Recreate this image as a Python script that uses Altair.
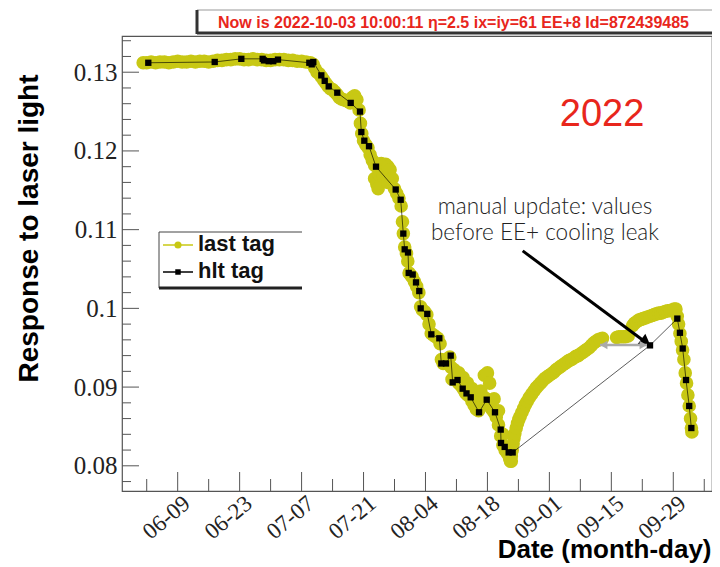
import altair as alt
import pandas as pd

# ---------------- data (day of year 2022, Jan 1 = 0) ----------------
hlt_day = [152.36, 167.37, 173.38, 178.2, 178.5, 179.57, 180.6, 181.67, 188.75, 189.29, 189.65,
           191.46, 192.23, 193.13, 195.07, 198.1, 200.2, 200.5, 201.18, 202.24, 203.82, 208.27,
           209.4, 209.99, 210.3, 211.05, 211.21, 212.11, 212.86, 213.6, 213.92, 215.41, 216.32,
           218.13, 218.58, 219.64, 220.7, 221.15, 222.24, 223.41, 224.27, 225.22, 227.1, 228.84,
           230.71, 232.0, 232.07, 232.9, 233.8, 234.7, 265.74, 271.91, 272.5, 273.13, 273.88,
           274.6, 275.08]
hlt_val = [0.1312, 0.1313, 0.1317, 0.1317, 0.1315, 0.1314, 0.1314, 0.1316, 0.1312, 0.1310, 0.1313,
           0.1296, 0.1289, 0.1282, 0.1274, 0.1261, 0.1250, 0.1224, 0.1213, 0.1206, 0.1180, 0.1151,
           0.1138, 0.1095, 0.1075, 0.1071, 0.1045, 0.1043, 0.1033, 0.1022, 0.1000, 0.0993, 0.0967,
           0.0962, 0.0930, 0.0930, 0.0940, 0.0906, 0.0909, 0.0898, 0.0892, 0.0887, 0.0868, 0.0884,
           0.0868, 0.0846, 0.0829, 0.0824, 0.0817, 0.0817, 0.0953, 0.0987, 0.0969, 0.0949, 0.0909,
           0.0876, 0.0848]

flat_day = [151.2, 152, 153, 154, 155, 156, 157, 158, 159, 160, 161, 162, 163, 164, 165, 166,
            167, 168, 169, 170, 171, 172, 173, 174, 175, 176, 177, 178, 179, 180, 181, 182, 183,
            184, 185, 186, 187, 188, 189, 189.6]
flat_val = [0.1312, 0.1312, 0.1313, 0.1312, 0.1313, 0.1313, 0.1312, 0.1313, 0.1314, 0.1313, 0.1313,
            0.1314, 0.1313, 0.1314, 0.1314, 0.1313, 0.1314, 0.1315, 0.1315, 0.1316, 0.1316, 0.1317,
            0.1317, 0.1316, 0.1316, 0.1317, 0.1316, 0.1316, 0.1315, 0.1315, 0.1316, 0.1316, 0.1316,
            0.1315, 0.1315, 0.1314, 0.1314, 0.1313, 0.1312, 0.1310]

fall_day = [190.0, 190.5, 191.0, 191.5, 192.0, 192.5, 193.0, 193.5, 194.0, 194.5, 195.0, 195.5,
            196.0, 196.5, 197.0, 197.5, 198.0, 198.5, 199.0, 199.5, 200.0, 200.3, 200.6, 201.0,
            201.5, 202.0, 202.5, 203.0, 203.5, 203.5, 204.0, 204.3, 204.0, 204.5, 204.5, 205.0,
            205.5, 205.5, 206.0, 206.5, 206.5, 207.0, 207.5, 208.0, 208.5, 209.0, 209.5, 209.8,
            210.0, 210.3, 210.7, 211.0, 211.3, 211.7, 212.0, 212.5, 213.0, 213.5, 213.9, 214.3,
            214.8, 215.3, 215.8, 216.3, 216.8, 217.3, 217.8, 218.3, 218.6, 219.0, 219.5, 220.0,
            220.5, 220.8, 221.0, 221.5, 221.5, 222.0, 222.5, 222.5, 223.0, 223.5, 223.5, 224.0,
            224.5, 224.5, 225.0, 225.5, 225.5, 226.0, 226.5, 226.5, 227.0, 227.5, 227.5, 228.0,
            228.3, 228.5, 229.0, 229.0, 229.5, 229.5, 230.0, 230.5, 230.5, 231.0, 231.5, 231.5,
            232.0, 232.5, 232.5, 233.0, 233.5, 234.0, 234.4]
fall_val = [0.1305, 0.1300, 0.1298, 0.1294, 0.1290, 0.1286, 0.1282, 0.1279, 0.1278, 0.1275, 0.1272,
            0.1268, 0.1266, 0.1265, 0.1264, 0.1263, 0.1261, 0.1268, 0.1270, 0.1265, 0.1252, 0.1235,
            0.1222, 0.1213, 0.1208, 0.1204, 0.1195, 0.1188, 0.1182, 0.1165, 0.1158, 0.1152, 0.1180,
            0.1183, 0.1170, 0.1184, 0.1182, 0.1168, 0.1183, 0.1180, 0.1160, 0.1176, 0.1165, 0.1152,
            0.1146, 0.1140, 0.1130, 0.1110, 0.1095, 0.1078, 0.1070, 0.1060, 0.1045, 0.1042, 0.1040,
            0.1034, 0.1028, 0.1020, 0.1002, 0.0998, 0.0996, 0.0992, 0.0980, 0.0968, 0.0966, 0.0964,
            0.0962, 0.0955, 0.0935, 0.0930, 0.0932, 0.0936, 0.0938, 0.0925, 0.0910, 0.0912, 0.0922,
            0.0912, 0.0905, 0.0918, 0.0902, 0.0898, 0.0912, 0.0893, 0.0890, 0.0905, 0.0888, 0.0882,
            0.0898, 0.0877, 0.0872, 0.0890, 0.0870, 0.0875, 0.0895, 0.0882, 0.0915, 0.0886, 0.0884,
            0.0918, 0.0878, 0.0905, 0.0872, 0.0868, 0.0885, 0.0862, 0.0852, 0.0870, 0.0838, 0.0826,
            0.0840, 0.0820, 0.0816, 0.0810, 0.0806]

rise_day = [234.2, 234.4, 234.6, 234.8, 235.0, 235.2, 235.5, 235.8, 236.1, 236.4, 236.8, 237.2,
            237.6, 238.0, 238.5, 239.0, 239.5, 240.0, 240.5, 241.0, 241.5, 242.0, 242.5, 243.0,
            243.5, 244.0, 244.5, 245.0, 245.5, 246.0, 246.5, 247.0, 247.5, 248.0, 248.5, 249.0,
            249.5, 250.0, 250.5, 251.0, 251.5, 252.0, 252.5, 253.0, 253.5, 254.0, 254.5, 255.0,
            258.2, 258.7, 259.2, 259.7, 260.2, 260.8, 261.8, 262.2, 262.7, 263.2, 263.7, 264.2,
            264.7, 265.2, 265.7, 266.2, 266.7, 267.2, 267.7, 268.2, 268.7, 269.2, 269.7, 270.2,
            270.7, 271.2, 271.6]
rise_val = [0.0806, 0.0812, 0.0820, 0.0828, 0.0835, 0.0841, 0.0848, 0.0854, 0.0859, 0.0863, 0.0868,
            0.0873, 0.0878, 0.0882, 0.0887, 0.0891, 0.0895, 0.0899, 0.0902, 0.0905, 0.0908, 0.0911,
            0.0913, 0.0915, 0.0917, 0.0919, 0.0922, 0.0924, 0.0926, 0.0928, 0.0930, 0.0932, 0.0934,
            0.0935, 0.0937, 0.0939, 0.0940, 0.0942, 0.0944, 0.0946, 0.0948, 0.0950, 0.0953, 0.0956,
            0.0958, 0.0960, 0.0961, 0.0962, 0.0963, 0.0964, 0.0964, 0.0964, 0.0964, 0.0965, 0.0978,
            0.0981, 0.0983, 0.0985, 0.0986, 0.0987, 0.0988, 0.0989, 0.0990, 0.0991, 0.0992, 0.0993,
            0.0994, 0.0994, 0.0995, 0.0996, 0.0997, 0.0997, 0.0998, 0.0999, 0.0999]

drop_day = [271.9, 272.2, 272.5, 272.8, 273.1, 273.4, 273.7, 274.0, 274.3, 274.6, 274.9, 275.1, 275.2]
drop_val = [0.0990, 0.0980, 0.0968, 0.0958, 0.0947, 0.0935, 0.0918, 0.0905, 0.0890, 0.0876, 0.0860,
            0.0848, 0.0843]

major_days = ["2022-06-09", "2022-06-23", "2022-07-07", "2022-07-21", "2022-08-04",
              "2022-08-18", "2022-09-01", "2022-09-15", "2022-09-29"]
minor_days = ["2022-06-02", "2022-06-16", "2022-06-30", "2022-07-14", "2022-07-28",
              "2022-08-11", "2022-08-25", "2022-09-08", "2022-09-22", "2022-10-06"]
y_major = [0.08, 0.09, 0.10, 0.11, 0.12, 0.13]
y_minor = [0.078, 0.082, 0.084, 0.086, 0.088, 0.092, 0.094, 0.096, 0.098, 0.102, 0.104, 0.106,
           0.108, 0.112, 0.114, 0.116, 0.118, 0.122, 0.124, 0.126, 0.128, 0.132, 0.134]

# ---------------- helpers ----------------
BASE = pd.Timestamp("2022-01-01")


def to_dt(days):
    return BASE + pd.to_timedelta(pd.Series(days, dtype=float), unit="D")


def dt(doy):
    return BASE + pd.Timedelta(days=doy)


YELLOW = "#c8c814"
RED = "#e8261c"
W, H = 590, 455

last_df = pd.DataFrame({
    "t": to_dt(flat_day + fall_day + rise_day + drop_day),
    "v": flat_val + fall_val + rise_val + drop_val,
})
hlt_df = pd.DataFrame({"t": to_dt(hlt_day), "v": hlt_val, "i": range(len(hlt_day))})

xscale = alt.Scale(domain=[alt.DateTime(year=2022, month=5, date=27, hours=10),
                           alt.DateTime(year=2022, month=10, date=7, hours=18)])
yscale = alt.Scale(domain=[0.0768, 0.1346], nice=False, zero=False)

xaxis = alt.Axis(values=[alt.DateTime(year=2022, month=int(d[5:7]), date=int(d[8:10])) for d in major_days],
                 format="%m-%d", labelAngle=-40, labelAlign="right", labelBaseline="middle",
                 labelFont="Liberation Serif", labelFontSize=23, labelColor="#222",
                 labelOffset=9, labelPadding=9, ticks=False, grid=False, domain=False,
                 title="Date (month-day)", titleFont="Liberation Sans", titleFontSize=26,
                 titleFontWeight="bold", titleColor="#000", titleAnchor="end", titleAlign="right",
                 titleX=W - 1, titleY=58, titleBaseline="middle")
yaxis = alt.Axis(values=y_major, format="~g", labelFont="Liberation Serif", labelFontSize=25,
                 labelColor="#222", labelPadding=5, ticks=False, grid=False, domain=False,
                 title="Response to laser light", titleFont="Liberation Sans", titleFontSize=28,
                 titleFontWeight="bold", titleColor="#000", titleAngle=270, titleX=-93, titleY=192,
                 titleAlign="center", titleBaseline="middle")

x_enc = alt.X("t:T", scale=xscale, axis=xaxis)
y_enc = alt.Y("v:Q", scale=yscale, axis=yaxis)

yellow = alt.Chart(last_df).mark_circle(size=185, color=YELLOW, opacity=1).encode(x=x_enc, y=y_enc)
hline = alt.Chart(hlt_df).mark_line(color="#000", strokeWidth=0.8, opacity=0.8).encode(
    x=alt.X("t:T", scale=xscale), y=alt.Y("v:Q", scale=yscale), order="i:Q")
hpts = alt.Chart(hlt_df).mark_square(size=40, color="#000", opacity=1).encode(
    x=alt.X("t:T", scale=xscale), y=alt.Y("v:Q", scale=yscale))

# inward ticks
xmaj = alt.Chart(pd.DataFrame({"t": pd.to_datetime(major_days)})).mark_rule(color="#555", strokeWidth=1).encode(
    x=alt.X("t:T", scale=xscale), y=alt.value(H), y2=alt.value(H - 19))
xmin = alt.Chart(pd.DataFrame({"t": pd.to_datetime(minor_days)})).mark_rule(color="#555", strokeWidth=1).encode(
    x=alt.X("t:T", scale=xscale), y=alt.value(H), y2=alt.value(H - 12))
ymaj = alt.Chart(pd.DataFrame({"v": y_major})).mark_rule(color="#555", strokeWidth=1).encode(
    y=alt.Y("v:Q", scale=yscale), x=alt.value(0), x2=alt.value(17))
ymin = alt.Chart(pd.DataFrame({"v": y_minor})).mark_rule(color="#555", strokeWidth=1).encode(
    y=alt.Y("v:Q", scale=yscale), x=alt.value(0), x2=alt.value(9))

one = alt.InlineData(values=[{"k": 0}])

ann_df = pd.DataFrame({
    "t": [dt(242.0), dt(242.0)],
    "v": [0.1129, 0.1096],
    "s": ["manual update: values", "before EE+ cooling leak"],
})
ann = alt.Chart(ann_df).mark_text(font="Lato", fontWeight=300, fontSize=22.5, color="#222",
                                  align="center", baseline="middle").encode(
    x=alt.X("t:T", scale=xscale), y=alt.Y("v:Q", scale=yscale), text="s:N")

year_df = pd.DataFrame({"t": [dt(254.9)], "v": [0.1246], "s": ["2022"]})
year = alt.Chart(year_df).mark_text(font="Liberation Sans", fontSize=38, color=RED,
                                    align="center", baseline="middle").encode(
    x=alt.X("t:T", scale=xscale), y=alt.Y("v:Q", scale=yscale), text="s:N")

arrow_df = pd.DataFrame({"t": [dt(236.97)], "t2": [dt(264.83)], "v": [0.1073], "v2": [0.09567]})
arrow_line = alt.Chart(arrow_df).mark_rule(color="#000", strokeWidth=3).encode(
    x=alt.X("t:T", scale=xscale), x2="t2:T", y=alt.Y("v:Q", scale=yscale), y2="v2:Q")
arrow_head = alt.Chart(arrow_df).mark_point(shape="triangle-up", angle=126.7, size=170, filled=True,
                                            color="#000", opacity=1).encode(
    x=alt.X("t2:T", scale=xscale), y=alt.Y("v2:Q", scale=yscale))

garrow_df = pd.DataFrame({"t": [dt(254.44)], "t2": [dt(265.06)], "v": [0.09535]})
garrow_line = alt.Chart(garrow_df).mark_rule(color="#aaa", strokeWidth=2.5).encode(
    x=alt.X("t:T", scale=xscale), x2="t2:T", y=alt.Y("v:Q", scale=yscale))
ghead_df = pd.DataFrame({"t": [dt(255.3), dt(264.2)], "v": [0.09535, 0.09535], "a": [270, 90]})
garrow_head = alt.Chart(ghead_df).mark_point(shape="triangle-up", size=70, filled=True,
                                             color="#aaa", opacity=1).encode(
    x=alt.X("t:T", scale=xscale), y=alt.Y("v:Q", scale=yscale), angle=alt.Angle("a:Q", scale=None))

# header box
hdr_box = alt.Chart(one).mark_rect(fill="#fff", stroke="#999", strokeWidth=1).encode(
    x=alt.value(75), x2=alt.value(592), y=alt.value(-26), y2=alt.value(-3))
hdr_sh1 = alt.Chart(one).mark_rule(color="#333", strokeWidth=3).encode(
    x=alt.value(75), y=alt.value(-26), y2=alt.value(-2))
hdr_sh2 = alt.Chart(one).mark_rule(color="#333", strokeWidth=3).encode(
    x=alt.value(75), x2=alt.value(592), y=alt.value(-3))
hdr_txt = alt.Chart(one).mark_text(
    text="Now is 2022-10-03 10:00:11  \u03b7=2.5 ix=iy=61 EE+8 Id=872439485",
    font="Liberation Sans", fontWeight="bold", fontSize=16, color=RED,
    align="left", baseline="middle").encode(x=alt.value(96), y=alt.value(-13))

# legend
leg_box = alt.Chart(one).mark_rect(fill="#fff").encode(
    x=alt.value(37), x2=alt.value(180), y=alt.value(196), y2=alt.value(251))
leg_top = alt.Chart(one).mark_rule(color="#444", strokeWidth=1).encode(
    x=alt.value(37), x2=alt.value(180), y=alt.value(196))
leg_left = alt.Chart(one).mark_rule(color="#444", strokeWidth=1).encode(
    x=alt.value(37), y=alt.value(196), y2=alt.value(252))
leg_sh = alt.Chart(one).mark_rule(color="#222", strokeWidth=3).encode(
    x=alt.value(37), x2=alt.value(180), y=alt.value(252))
leg_l1 = alt.Chart(one).mark_rule(color=YELLOW, strokeWidth=1.5).encode(
    x=alt.value(41), x2=alt.value(71), y=alt.value(209))
leg_p1 = alt.Chart(one).mark_circle(size=50, color=YELLOW, opacity=1).encode(
    x=alt.value(56), y=alt.value(209))
leg_l2 = alt.Chart(one).mark_rule(color="#000", strokeWidth=1.5).encode(
    x=alt.value(41), x2=alt.value(71), y=alt.value(236))
leg_p2 = alt.Chart(one).mark_square(size=30, color="#000", opacity=1).encode(
    x=alt.value(56), y=alt.value(236))
leg_t = alt.Chart(pd.DataFrame({"s": ["last tag", "hlt tag"], "py": [208, 235]})).mark_text(
    font="Liberation Sans", fontWeight="bold", fontSize=22, color="#111",
    align="left", baseline="middle").encode(x=alt.value(76), y=alt.Y("py:Q", scale=None), text="s:N")

chart = alt.layer(
    yellow, hline, hpts, xmaj, xmin, ymaj, ymin, ann, year, arrow_line, arrow_head,
    garrow_line, garrow_head, hdr_box, hdr_sh1, hdr_sh2, hdr_txt,
    leg_box, leg_top, leg_left, leg_sh, leg_l1, leg_p1, leg_l2, leg_p2, leg_t,
).properties(
    width=W, height=H,
    padding={"left": 114, "top": 28, "right": 0, "bottom": 76},
    autosize=alt.AutoSizeParams(type="none"),
    background="#fff",
).configure_view(stroke="#555", strokeWidth=1.2)

chart.save("out.html", embed_options={"renderer": "svg", "actions": False})
